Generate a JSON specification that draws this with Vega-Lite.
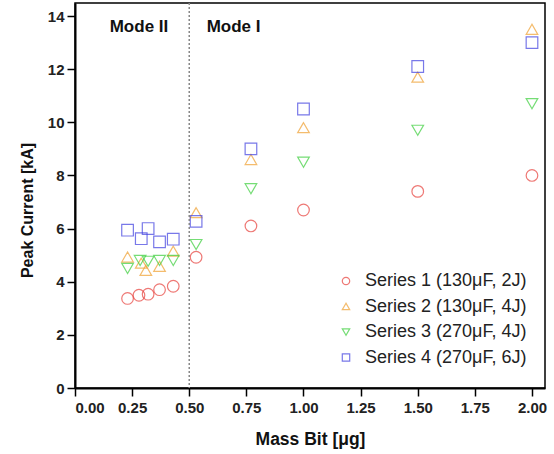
{
  "$schema": "https://vega.github.io/schema/vega-lite/v6.json",
  "width": 470,
  "height": 385,
  "autosize": {"type": "none"},
  "padding": {"left": 75, "top": 3, "right": 9, "bottom": 66},
  "background": "white",
  "config": {
    "font": "Liberation Sans",
    "view": {"stroke": "black", "strokeWidth": 1.5},
    "axis": {
      "domainColor": "black",
      "domainWidth": 2,
      "tickColor": "black",
      "tickWidth": 1.5,
      "labelFont": "Liberation Sans",
      "labelFontWeight": "bold",
      "labelFontSize": 15,
      "labelColor": "#222",
      "titleFont": "Liberation Sans",
      "titleFontWeight": "bold",
      "titleColor": "#111",
      "grid": false
    },
    "legend": {
      "orient": "none",
      "legendX": 262,
      "legendY": 269,
      "labelFont": "Liberation Sans",
      "labelFontSize": 18,
      "labelLimit": 400,
      "labelColor": "#222",
      "symbolSize": 55,
      "symbolStrokeWidth": 1.2,
      "rowPadding": 7.5,
      "labelOffset": 10,
      "title": null
    }
  },
  "datasets": {
    "pts": [
      {"series": "Series 1 (130μF, 2J)", "mass": 0.23, "current": 3.37},
      {"series": "Series 1 (130μF, 2J)", "mass": 0.28, "current": 3.49},
      {"series": "Series 1 (130μF, 2J)", "mass": 0.32, "current": 3.53},
      {"series": "Series 1 (130μF, 2J)", "mass": 0.37, "current": 3.7},
      {"series": "Series 1 (130μF, 2J)", "mass": 0.43, "current": 3.83},
      {"series": "Series 1 (130μF, 2J)", "mass": 0.53, "current": 4.92},
      {"series": "Series 1 (130μF, 2J)", "mass": 0.77, "current": 6.1},
      {"series": "Series 1 (130μF, 2J)", "mass": 1.0, "current": 6.7},
      {"series": "Series 1 (130μF, 2J)", "mass": 1.5, "current": 7.4},
      {"series": "Series 1 (130μF, 2J)", "mass": 2.0, "current": 8.0},
      {"series": "Series 2 (130μF, 4J)", "mass": 0.23, "current": 4.93},
      {"series": "Series 2 (130μF, 4J)", "mass": 0.29, "current": 4.7},
      {"series": "Series 2 (130μF, 4J)", "mass": 0.31, "current": 4.43},
      {"series": "Series 2 (130μF, 4J)", "mass": 0.37, "current": 4.58},
      {"series": "Series 2 (130μF, 4J)", "mass": 0.43, "current": 5.15},
      {"series": "Series 2 (130μF, 4J)", "mass": 0.53, "current": 6.6},
      {"series": "Series 2 (130μF, 4J)", "mass": 0.77, "current": 8.6},
      {"series": "Series 2 (130μF, 4J)", "mass": 1.0, "current": 9.8},
      {"series": "Series 2 (130μF, 4J)", "mass": 1.5, "current": 11.7},
      {"series": "Series 2 (130μF, 4J)", "mass": 2.0, "current": 13.5},
      {"series": "Series 3 (270μF, 4J)", "mass": 0.23, "current": 4.5},
      {"series": "Series 3 (270μF, 4J)", "mass": 0.285, "current": 4.8},
      {"series": "Series 3 (270μF, 4J)", "mass": 0.32, "current": 4.77},
      {"series": "Series 3 (270μF, 4J)", "mass": 0.37, "current": 4.8},
      {"series": "Series 3 (270μF, 4J)", "mass": 0.43, "current": 4.8},
      {"series": "Series 3 (270μF, 4J)", "mass": 0.53, "current": 5.4},
      {"series": "Series 3 (270μF, 4J)", "mass": 0.77, "current": 7.5},
      {"series": "Series 3 (270μF, 4J)", "mass": 1.0, "current": 8.5},
      {"series": "Series 3 (270μF, 4J)", "mass": 1.5, "current": 9.7},
      {"series": "Series 3 (270μF, 4J)", "mass": 2.0, "current": 10.7},
      {"series": "Series 4 (270μF, 6J)", "mass": 0.23, "current": 5.94},
      {"series": "Series 4 (270μF, 6J)", "mass": 0.29, "current": 5.62},
      {"series": "Series 4 (270μF, 6J)", "mass": 0.32, "current": 6.0},
      {"series": "Series 4 (270μF, 6J)", "mass": 0.37, "current": 5.5},
      {"series": "Series 4 (270μF, 6J)", "mass": 0.43, "current": 5.6},
      {"series": "Series 4 (270μF, 6J)", "mass": 0.53, "current": 6.27},
      {"series": "Series 4 (270μF, 6J)", "mass": 0.77, "current": 9.0},
      {"series": "Series 4 (270μF, 6J)", "mass": 1.0, "current": 10.5},
      {"series": "Series 4 (270μF, 6J)", "mass": 1.5, "current": 12.1},
      {"series": "Series 4 (270μF, 6J)", "mass": 2.0, "current": 13.0}
    ],
    "modes": [
      {"mass": 0.28, "current": 13.57, "label": "Mode II"},
      {"mass": 0.694, "current": 13.57, "label": "Mode I"}
    ],
    "divider": [{"mass": 0.5}]
  },
  "layer": [
    {
      "data": {"name": "pts"},
      "mark": {"type": "point", "filled": false, "size": 135, "strokeWidth": 1.2},
      "encoding": {
        "x": {
          "field": "mass", "type": "quantitative",
          "scale": {"domain": [0, 2.057], "nice": false, "zero": false},
          "axis": {
            "title": "Mass Bit [μg]",
            "titleFontSize": 17.5,
            "values": [0, 0.125, 0.25, 0.375, 0.5, 0.625, 0.75, 0.875, 1, 1.125, 1.25, 1.375, 1.5, 1.625, 1.75, 1.875, 2],
            "labelExpr": "(datum.value * 4) % 1 == 0 ? format(datum.value, '.2f') : ''",
            "tickSize": {"condition": {"test": "(datum.value * 4) % 1 == 0", "value": 8}, "value": 4},
            "labelPadding": 4,
            "titlePadding": 15
          }
        },
        "y": {
          "field": "current", "type": "quantitative",
          "scale": {"domain": [0, 14.49], "nice": false},
          "axis": {
            "title": "Peak Current [kA]",
            "titleFontSize": 16,
            "titleY": 207,
            "values": [0, 1, 2, 3, 4, 5, 6, 7, 8, 9, 10, 11, 12, 13, 14],
            "labelExpr": "datum.value % 2 == 0 ? format(datum.value, 'd') : ''",
            "tickSize": {"condition": {"test": "datum.value % 2 == 0", "value": 8}, "value": 4},
            "labelPadding": 3,
            "titlePadding": 12
          }
        },
        "color": {
          "field": "series", "type": "nominal",
          "scale": {"range": ["#e8413c", "#f0a030", "#3ccf3c", "#4040e0"]}
        },
        "shape": {
          "field": "series", "type": "nominal",
          "scale": {"range": ["circle", "triangle-up", "triangle-down", "square"]}
        }
      }
    },
    {
      "data": {"name": "divider"},
      "mark": {"type": "rule", "color": "#888", "strokeDash": [2, 2], "strokeWidth": 1.5},
      "encoding": {
        "x": {"field": "mass", "type": "quantitative"}
      }
    },
    {
      "data": {"name": "modes"},
      "mark": {"type": "text", "font": "Liberation Sans", "fontWeight": "bold", "fontSize": 17, "color": "#111", "align": "center", "baseline": "middle"},
      "encoding": {
        "x": {"field": "mass", "type": "quantitative"},
        "y": {"field": "current", "type": "quantitative"},
        "text": {"field": "label"}
      }
    }
  ]
}
